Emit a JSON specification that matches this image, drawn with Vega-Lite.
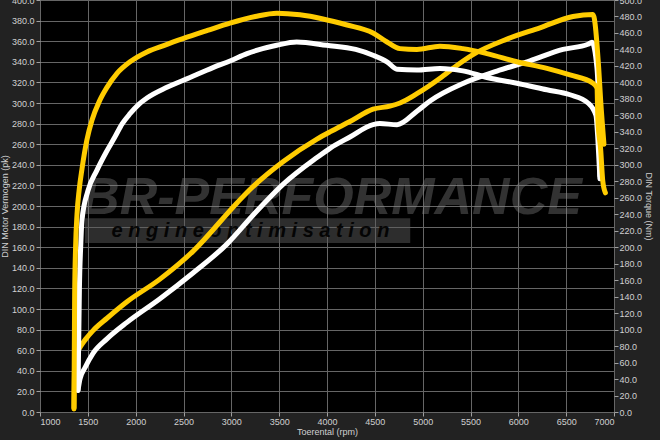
{
  "$schema": "https://vega.github.io/schema/vega-lite/v6.json",
  "width": 574,
  "height": 412,
  "autosize": {"type": "none"},
  "padding": {"left": 40, "top": 0, "right": 46, "bottom": 28},
  "background": "#222222",
  "datasets": {
    "stock_power": [
      {"rpm": 1397, "pk": 21}, {"rpm": 1418, "pk": 32}, {"rpm": 1470, "pk": 43}, {"rpm": 1554, "pk": 57},
      {"rpm": 1700, "pk": 71}, {"rpm": 1909, "pk": 87}, {"rpm": 2254, "pk": 110}, {"rpm": 2599, "pk": 135},
      {"rpm": 2954, "pk": 163}, {"rpm": 3226, "pk": 191}, {"rpm": 3540, "pk": 221}, {"rpm": 3895, "pk": 247},
      {"rpm": 4031, "pk": 256}, {"rpm": 4240, "pk": 267}, {"rpm": 4481, "pk": 279}, {"rpm": 4553, "pk": 280},
      {"rpm": 4732, "pk": 279}, {"rpm": 4940, "pk": 292}, {"rpm": 5077, "pk": 302}, {"rpm": 5421, "pk": 319},
      {"rpm": 5776, "pk": 331}, {"rpm": 6122, "pk": 341}, {"rpm": 6467, "pk": 352}, {"rpm": 6728, "pk": 357},
      {"rpm": 6770, "pk": 359}, {"rpm": 6822, "pk": 334}, {"rpm": 6843, "pk": 282}, {"rpm": 6853, "pk": 229}
    ],
    "tuned_power": [
      {"rpm": 1355, "pk": 3}, {"rpm": 1362, "pk": 45}, {"rpm": 1380, "pk": 55}, {"rpm": 1420, "pk": 63},
      {"rpm": 1480, "pk": 71}, {"rpm": 1554, "pk": 79}, {"rpm": 1700, "pk": 91}, {"rpm": 1909, "pk": 107},
      {"rpm": 2254, "pk": 129}, {"rpm": 2599, "pk": 156}, {"rpm": 3059, "pk": 203}, {"rpm": 3195, "pk": 216},
      {"rpm": 3540, "pk": 243}, {"rpm": 3895, "pk": 265}, {"rpm": 4031, "pk": 272}, {"rpm": 4240, "pk": 282},
      {"rpm": 4481, "pk": 294}, {"rpm": 4658, "pk": 297}, {"rpm": 4763, "pk": 300}, {"rpm": 4940, "pk": 309},
      {"rpm": 5181, "pk": 324}, {"rpm": 5350, "pk": 336}, {"rpm": 5526, "pk": 347}, {"rpm": 5881, "pk": 362},
      {"rpm": 6226, "pk": 373}, {"rpm": 6571, "pk": 384}, {"rpm": 6780, "pk": 386}, {"rpm": 6840, "pk": 334},
      {"rpm": 6861, "pk": 302}, {"rpm": 6895, "pk": 260}
    ],
    "stock_torque": [
      {"rpm": 1397, "Nm": 26}, {"rpm": 1405, "Nm": 90}, {"rpm": 1412, "Nm": 150}, {"rpm": 1425, "Nm": 200},
      {"rpm": 1439, "Nm": 233}, {"rpm": 1500, "Nm": 268}, {"rpm": 1593, "Nm": 293}, {"rpm": 1690, "Nm": 315},
      {"rpm": 1784, "Nm": 334}, {"rpm": 1860, "Nm": 350}, {"rpm": 1941, "Nm": 362}, {"rpm": 2030, "Nm": 373},
      {"rpm": 2118, "Nm": 381}, {"rpm": 2327, "Nm": 394}, {"rpm": 2568, "Nm": 406}, {"rpm": 2808, "Nm": 418},
      {"rpm": 2986, "Nm": 426}, {"rpm": 3164, "Nm": 435}, {"rpm": 3474, "Nm": 445}, {"rpm": 3683, "Nm": 449},
      {"rpm": 3997, "Nm": 445}, {"rpm": 4300, "Nm": 440}, {"rpm": 4481, "Nm": 433}, {"rpm": 4627, "Nm": 425},
      {"rpm": 4732, "Nm": 416}, {"rpm": 4940, "Nm": 415}, {"rpm": 5181, "Nm": 417}, {"rpm": 5421, "Nm": 414},
      {"rpm": 5672, "Nm": 406}, {"rpm": 5985, "Nm": 399}, {"rpm": 6299, "Nm": 391}, {"rpm": 6540, "Nm": 385},
      {"rpm": 6728, "Nm": 375}, {"rpm": 6811, "Nm": 360}, {"rpm": 6832, "Nm": 330}, {"rpm": 6853, "Nm": 283}
    ],
    "tuned_torque": [
      {"rpm": 1355, "Nm": 5}, {"rpm": 1362, "Nm": 140}, {"rpm": 1372, "Nm": 200}, {"rpm": 1387, "Nm": 240},
      {"rpm": 1410, "Nm": 270}, {"rpm": 1439, "Nm": 295}, {"rpm": 1490, "Nm": 330}, {"rpm": 1543, "Nm": 354},
      {"rpm": 1620, "Nm": 377}, {"rpm": 1700, "Nm": 394}, {"rpm": 1805, "Nm": 411}, {"rpm": 1941, "Nm": 425},
      {"rpm": 2118, "Nm": 437}, {"rpm": 2300, "Nm": 445}, {"rpm": 2494, "Nm": 453}, {"rpm": 2750, "Nm": 463},
      {"rpm": 2986, "Nm": 472}, {"rpm": 3250, "Nm": 480}, {"rpm": 3477, "Nm": 484}, {"rpm": 3718, "Nm": 482},
      {"rpm": 3958, "Nm": 477}, {"rpm": 4200, "Nm": 470}, {"rpm": 4481, "Nm": 460}, {"rpm": 4627, "Nm": 449},
      {"rpm": 4763, "Nm": 441}, {"rpm": 4940, "Nm": 440}, {"rpm": 5181, "Nm": 444}, {"rpm": 5421, "Nm": 441},
      {"rpm": 5672, "Nm": 435}, {"rpm": 5985, "Nm": 425}, {"rpm": 6299, "Nm": 417}, {"rpm": 6540, "Nm": 409},
      {"rpm": 6780, "Nm": 399}, {"rpm": 6822, "Nm": 393}, {"rpm": 6832, "Nm": 354}, {"rpm": 6861, "Nm": 318},
      {"rpm": 6882, "Nm": 281}, {"rpm": 6910, "Nm": 266}
    ]
  },
  "layer": [
    {
      "layer": [
        {
          "data": {"values": [{}]},
          "mark": {"type": "text", "text": "BR-PERFORMANCE", "font": "Liberation Sans", "fontSize": 52, "fontWeight": "bold", "fontStyle": "italic", "align": "center", "baseline": "middle", "fill": "#8a8a8a", "opacity": 0.36},
          "encoding": {
            "x": {"datum": 4052, "type": "quantitative", "scale": {"domain": [1000, 7000], "nice": false}},
            "y": {"datum": 208, "type": "quantitative", "scale": {"domain": [0, 400], "nice": false}}
          }
        },
        {
          "data": {"values": [{}]},
          "mark": {"type": "rect", "fill": "#5a5a5a", "opacity": 0.5},
          "encoding": {
            "x": {"datum": 1470, "type": "quantitative"},
            "x2": {"datum": 4870},
            "y": {"datum": 188, "type": "quantitative"},
            "y2": {"datum": 164}
          }
        },
        {
          "data": {"values": [{}]},
          "mark": {"type": "text", "text": "e n g i n e   o p t i m i s a t i o n", "font": "Liberation Sans", "fontSize": 20, "fontWeight": "bold", "fontStyle": "italic", "align": "center", "baseline": "middle", "fill": "#000000", "opacity": 0.9},
          "encoding": {
            "x": {"datum": 3200, "type": "quantitative"},
            "y": {"datum": 176, "type": "quantitative"}
          }
        },
        {
          "data": {"name": "stock_power"},
          "mark": {"type": "line", "interpolate": "monotone", "stroke": "#ffffff", "strokeWidth": 5, "strokeCap": "round", "strokeJoin": "round"},
          "encoding": {
            "x": {"field": "rpm", "type": "quantitative", "scale": {"domain": [1000, 7000], "nice": false},
              "axis": {"title": "Toerental (rpm)", "format": "d", "values": [1000, 1500, 2000, 2500, 3000, 3500, 4000, 4500, 5000, 5500, 6000, 6500, 7000], "tickCount": 40, "grid": true, "domain": false, "tickSize": 4, "labelPadding": 1, "titlePadding": 1, "labelOverlap": false}},
            "y": {"field": "pk", "type": "quantitative", "scale": {"domain": [0, 400], "nice": false},
              "axis": {"title": "DIN Motor Vermogen (pk)", "orient": "left", "format": ".1f", "values": [0, 20, 40, 60, 80, 100, 120, 140, 160, 180, 200, 220, 240, 260, 280, 300, 320, 340, 360, 380, 400], "tickCount": 40, "grid": true, "domain": false, "tickSize": 4, "labelPadding": 2, "titlePadding": 2, "labelOverlap": false}}
          }
        },
        {
          "data": {"name": "tuned_power"},
          "mark": {"type": "line", "interpolate": "monotone", "stroke": "#ffcc00", "strokeWidth": 5, "strokeCap": "round", "strokeJoin": "round"},
          "encoding": {
            "x": {"field": "rpm", "type": "quantitative"},
            "y": {"field": "pk", "type": "quantitative"}
          }
        }
      ]
    },
    {
      "layer": [
        {
          "data": {"name": "stock_torque"},
          "mark": {"type": "line", "interpolate": "monotone", "stroke": "#ffffff", "strokeWidth": 5, "strokeCap": "round", "strokeJoin": "round"},
          "encoding": {
            "x": {"field": "rpm", "type": "quantitative"},
            "y": {"field": "Nm", "type": "quantitative", "scale": {"domain": [0, 500], "nice": false},
              "axis": {"title": "DIN Torque (Nm)", "orient": "right", "format": ".1f", "values": [0, 20, 40, 60, 80, 100, 120, 140, 160, 180, 200, 220, 240, 260, 280, 300, 320, 340, 360, 380, 400, 420, 440, 460, 480, 500], "tickCount": 40, "grid": false, "domain": false, "tickSize": 4, "labelPadding": 1, "titlePadding": 2, "labelOverlap": false}}
          }
        },
        {
          "data": {"name": "tuned_torque"},
          "mark": {"type": "line", "interpolate": "monotone", "stroke": "#ffcc00", "strokeWidth": 5, "strokeCap": "round", "strokeJoin": "round"},
          "encoding": {
            "x": {"field": "rpm", "type": "quantitative"},
            "y": {"field": "Nm", "type": "quantitative"}
          }
        }
      ]
    }
  ],
  "resolve": {"scale": {"y": "independent"}},
  "config": {
    "view": {"fill": "#000000", "stroke": null},
    "axis": {
      "labelOverlap": false,
      "labelColor": "#d0d0d0",
      "titleColor": "#d0d0d0",
      "labelFont": "Liberation Sans",
      "titleFont": "Liberation Sans",
      "labelFontSize": 9,
      "titleFontSize": 9,
      "titleFontWeight": "normal",
      "gridColor": "#666666",
      "gridOpacity": 1,
      "gridWidth": 1,
      "tickColor": "#a0a0a0",
      "tickWidth": 1
    }
  }
}
